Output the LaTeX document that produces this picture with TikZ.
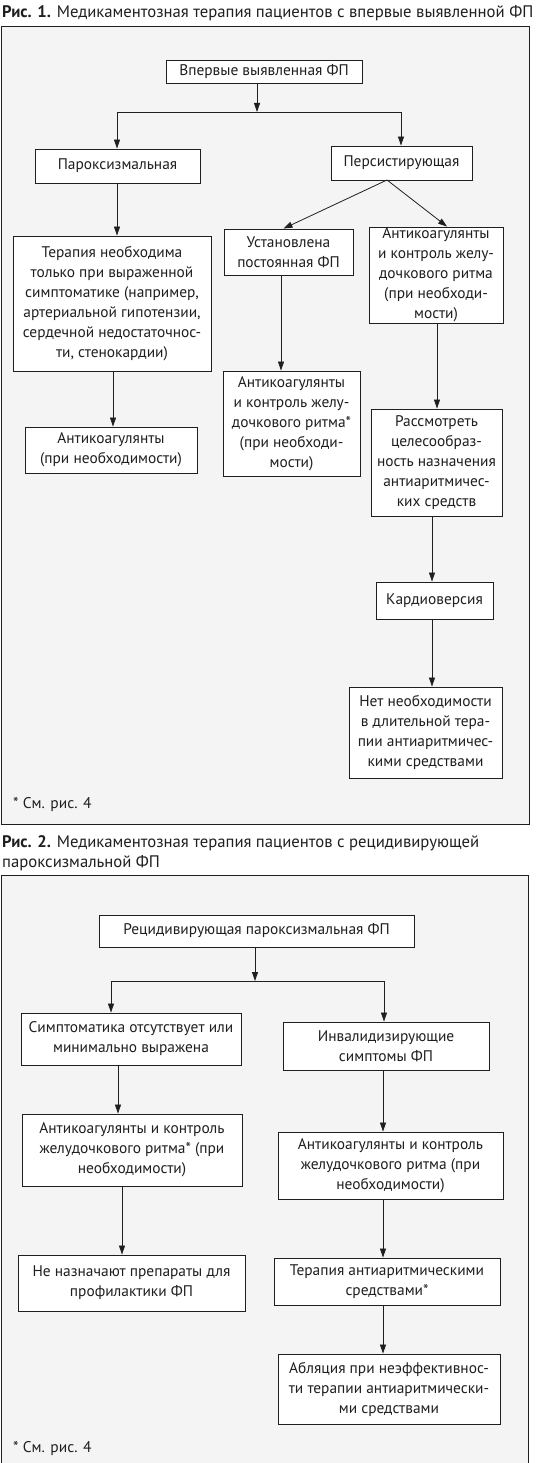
\documentclass[tikz,border=0pt]{standalone}
\usepackage{fontspec}
\setmainfont{PT Sans}
\usetikzlibrary{arrows.meta,calc}
\definecolor{ink}{gray}{0.12}
\definecolor{paper}{gray}{0.955}
\begin{document}
\begin{tikzpicture}[x=1pt,y=-1pt,
  box/.style={draw=ink, line width=0.9pt, fill=white, inner sep=0pt, align=center,
    text=ink, font=\fontsize{15.4}{20}\selectfont},
  arr/.style={draw=ink, line width=0.8pt, -{Triangle[length=9pt,width=6pt]}},
  ln/.style={draw=ink, line width=0.8pt},
  outerframe/.style={draw=ink, line width=0.8pt, fill=paper},
  captxt/.style={anchor=west, inner sep=0pt, text=ink, font=\fontsize{16.7}{20}\selectfont},
  notetxt/.style={anchor=west, inner sep=0pt, text=ink, font=\fontsize{15.5}{18}\selectfont}]
\useasboundingbox (0,0) rectangle (535,1463);
\fill[white] (0,0) rectangle (535,1463);

% ---------- Figure 1 ----------
\node[captxt] (cap1) at (2,13) {\textbf{Рис. 1.} Медикаментозная терапия пациентов с впервые выявленной ФП};
\path[outerframe] (1,26) rectangle (529,824);

\node[box, minimum width=196, minimum height=23] (b1) at (264,71.5) {Впервые выявленная ФП};
\node[box, minimum width=165, minimum height=34] (p) at (117.5,166) {Пароксизмальная};
\node[box, minimum width=141, minimum height=34] (s) at (401.5,163) {Персистирующая};
\node[box, minimum width=198, minimum height=135] (t) at (112,303.5)
  {Терапия необходима\\только при выраженной\\симптоматике (например,\\артериальной гипотензии,\\сердечной недостаточнос-\\ти, стенокардии)};
\node[box, minimum width=129, minimum height=46] (u) at (288.5,252) {Установлена\\постоянная ФП};
\node[box, minimum width=134, minimum height=96] (r) at (436,275)
  {Антикоагулянты\\и контроль желу-\\дочкового ритма\\(при необходи-\\мости)};
\node[box, minimum width=137, minimum height=105] (m) at (291.5,423.5)
  {Антикоагулянты\\и контроль желу-\\дочкового ритма*\\(при необходи-\\мости)};
\node[box, minimum width=172, minimum height=46] (a) at (111,450) {Антикоагулянты\\(при необходимости)};
\node[box, minimum width=131, minimum height=107] (k) at (436.5,462.5)
  {Рассмотреть\\целесообраз-\\ность назначения\\антиаритмичес-\\ких средств};
\node[box, minimum width=117, minimum height=37] (cv) at (434.5,600.5) {Кардиоверсия};
\node[box, minimum width=153, minimum height=91] (n) at (425.5,732.5)
  {Нет необходимости\\в длительной тера-\\пии антиаритмичес-\\кими средствами};
\node[notetxt] (note1) at (13,804) {* См. рис. 4};

\coordinate (j1) at (257,112);
\coordinate (jl) at (117,112);
\coordinate (jr) at (401,112);
\draw[arr] (b1.south -| j1) -- (j1);
\draw[ln] (jl) -- (jr);
\draw[arr] (jl) -- (jl |- p.north);
\draw[arr] (jr) -- (jr |- s.north);
\coordinate (sd) at (387,180);
\draw[arr] (sd) -- ($(u.north)+(-5,0)$);
\draw[arr] (sd) -- ($(r.north)+(11,0)$);
\coordinate (x1) at (117,0);
\draw[arr] (p.south -| x1) -- (t.north -| x1);
\coordinate (x2) at (113,0);
\draw[arr] (t.south -| x2) -- (a.north -| x2);
\coordinate (x3) at (281,0);
\draw[arr] (u.south -| x3) -- (m.north -| x3);
\coordinate (x4) at (437,0);
\draw[arr] (r.south -| x4) -- (k.north -| x4);
\coordinate (x5) at (432,0);
\draw[arr] (k.south -| x5) -- (cv.north -| x5);
\draw[arr] (cv.south -| x5) -- (n.north -| x5);

% ---------- Figure 2 ----------
\node[captxt] (cap2a) at (2,843) {\textbf{Рис. 2.} Медикаментозная терапия пациентов с рецидивирующей};
\node[captxt] (cap2b) at (2,863) {пароксизмальной ФП};
\path[outerframe] (1,1470) -- (1,875) -- (528,875) -- (528,1470);

\node[box, minimum width=315, minimum height=32] (q) at (256.5,931) {Рецидивирующая пароксизмальная ФП};
\node[box, minimum width=220, minimum height=52] (sl) at (131,1039) {Симптоматика отсутствует или\\минимально выражена};
\node[box, minimum width=206, minimum height=48] (sr) at (386,1046) {Инвалидизирующие\\симптомы ФП};
\node[box, minimum width=220, minimum height=72] (al) at (132,1150) {Антикоагулянты и контроль\\желудочкового ритма* (при\\необходимости)};
\node[box, minimum width=225, minimum height=67] (ar) at (390.5,1165.5) {Антикоагулянты и контроль\\желудочкового ритма (при\\необходимости)};
\node[box, minimum width=227, minimum height=56] (nl) at (131.5,1283) {Не назначают препараты для\\профилактики ФП};
\node[box, minimum width=226, minimum height=47] (tr) at (387,1281.5) {Терапия антиаритмическими\\средствами*};
\node[box, minimum width=222, minimum height=70] (ab) at (389,1389) {Абляция при неэффективнос-\\ти терапии антиаритмически-\\ми средствами};
\node[notetxt] (note2) at (13,1448) {* См. рис. 4};

\coordinate (j2) at (255,981);
\coordinate (jl2) at (111,981);
\coordinate (jr2) at (384,981);
\draw[arr] (q.south -| j2) -- (j2);
\draw[ln] (jl2) -- (jr2);
\draw[arr] (jl2) -- (jl2 |- sl.north);
\draw[arr] (jr2) -- (jr2 |- sr.north);
\coordinate (y1) at (118,0);
\draw[arr] (sl.south -| y1) -- (al.north -| y1);
\coordinate (y2) at (122,0);
\draw[arr] (al.south -| y2) -- (nl.north -| y2);
\coordinate (y3) at (383,0);
\draw[arr] (sr.south -| y3) -- (ar.north -| y3);
\draw[arr] (ar.south -| y3) -- (tr.north -| y3);
\draw[arr] (tr.south -| y3) -- (ab.north -| y3);
\end{tikzpicture}
\end{document}
